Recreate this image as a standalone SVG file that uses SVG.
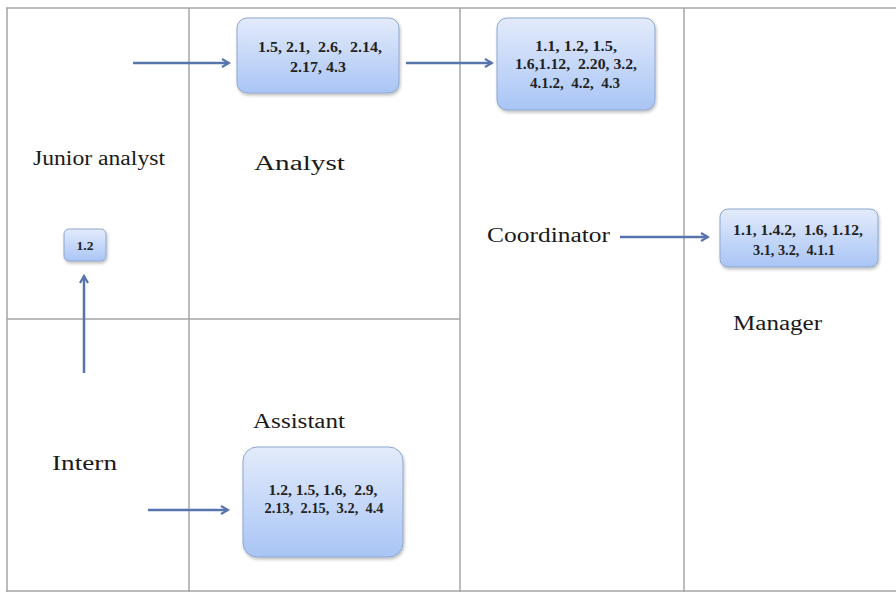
<svg xmlns="http://www.w3.org/2000/svg" width="896" height="592" viewBox="0 0 896 592">
<defs>
<linearGradient id="g" x1="0" y1="0" x2="0" y2="1">
<stop offset="0" stop-color="#e3ebfb"/>
<stop offset="1" stop-color="#a9c5f5"/>
</linearGradient>
<filter id="sh" x="-10%" y="-10%" width="130%" height="130%">
<feDropShadow dx="1" dy="2" stdDeviation="1.5" flood-color="#000" flood-opacity="0.25"/>
</filter>
<marker id="ah" markerWidth="10" markerHeight="10" refX="8" refY="5" orient="auto" markerUnits="userSpaceOnUse">
<path d="M1,1 L8,5 L1,9" fill="none" stroke="#5774ad" stroke-width="2.2"/>
</marker>
<style>
.grid{stroke:#a6a6a6;stroke-width:1.5;fill:none}
.box{fill:url(#g);stroke:#8ea6cf;stroke-width:1;filter:url(#sh)}
.lbl{font-family:"Liberation Serif","Times New Roman",serif;font-size:20px;fill:#1a1a1a}
.bt{font-family:"Liberation Serif","Times New Roman",serif;font-size:14.5px;font-weight:bold;fill:#222;text-anchor:middle}
.conn{stroke:#5774ad;stroke-width:2.5;fill:none;marker-end:url(#ah)}
</style>
</defs>
<g id="grid">
<line class="grid" x1="6" y1="8" x2="896" y2="8"/>
<line class="grid" x1="7" y1="8" x2="7" y2="592"/>
<line class="grid" x1="6" y1="591" x2="896" y2="591"/>
<line class="grid" x1="189" y1="8" x2="189" y2="592"/>
<line class="grid" x1="460" y1="8" x2="460" y2="592"/>
<line class="grid" x1="684" y1="8" x2="684" y2="592"/>
<line class="grid" x1="7" y1="319" x2="460" y2="319"/>
</g>
<g id="labels">
<text class="lbl" x="33" y="165" textLength="132" lengthAdjust="spacingAndGlyphs">Junior analyst</text>
<text class="lbl" x="254" y="170" textLength="91" lengthAdjust="spacingAndGlyphs">Analyst</text>
<text class="lbl" x="487" y="242" textLength="123" lengthAdjust="spacingAndGlyphs">Coordinator</text>
<text class="lbl" x="733" y="330" textLength="89" lengthAdjust="spacingAndGlyphs">Manager</text>
<text class="lbl" x="253" y="428" textLength="92" lengthAdjust="spacingAndGlyphs">Assistant</text>
<text class="lbl" x="52" y="470" textLength="65" lengthAdjust="spacingAndGlyphs">Intern</text>
</g>
<g id="node-analyst">
<rect class="box" x="237" y="18" width="162" height="75" rx="10"/>
<text class="bt" x="320" y="52" xml:space="preserve" textLength="124" lengthAdjust="spacingAndGlyphs">1.5, 2.1,  2.6,  2.14,</text>
<text class="bt" x="318" y="72" textLength="56" lengthAdjust="spacingAndGlyphs">2.17, 4.3</text>
</g>
<g id="node-coordinator">
<rect class="box" x="497" y="18" width="158" height="92" rx="10"/>
<text class="bt" x="576" y="51" textLength="82" lengthAdjust="spacingAndGlyphs">1.1, 1.2, 1.5,</text>
<text class="bt" x="576" y="69" xml:space="preserve" textLength="122" lengthAdjust="spacingAndGlyphs">1.6,1.12,  2.20, 3.2,</text>
<text class="bt" x="575" y="88" xml:space="preserve" textLength="90" lengthAdjust="spacingAndGlyphs">4.1.2,  4.2,  4.3</text>
</g>
<g id="node-manager">
<rect class="box" x="720" y="209" width="158" height="58" rx="8"/>
<text class="bt" x="798" y="235" xml:space="preserve" textLength="130" lengthAdjust="spacingAndGlyphs">1.1, 1.4.2,  1.6, 1.12,</text>
<text class="bt" x="794" y="255" xml:space="preserve" textLength="82" lengthAdjust="spacingAndGlyphs">3.1, 3.2,  4.1.1</text>
</g>
<g id="node-assistant">
<rect class="box" x="243" y="447" width="160" height="110" rx="14"/>
<text class="bt" x="323" y="495" xml:space="preserve" textLength="109" lengthAdjust="spacingAndGlyphs">1.2, 1.5, 1.6,  2.9,</text>
<text class="bt" x="324" y="513" xml:space="preserve" textLength="119" lengthAdjust="spacingAndGlyphs">2.13,  2.15,  3.2,  4.4</text>
</g>
<g id="node-junior">
<rect class="box" x="64" y="229" width="42" height="32" rx="5"/>
<text class="bt" x="85" y="250" style="font-size:13.5px">1.2</text>
</g>
<g id="connectors">
<line class="conn" x1="133" y1="63" x2="229" y2="63"/>
<line class="conn" x1="406" y1="63" x2="492" y2="63"/>
<line class="conn" x1="620" y1="237" x2="708" y2="237"/>
<line class="conn" x1="148" y1="510" x2="228" y2="510"/>
<line class="conn" x1="84" y1="373" x2="84" y2="276"/>
</g>
</svg>
